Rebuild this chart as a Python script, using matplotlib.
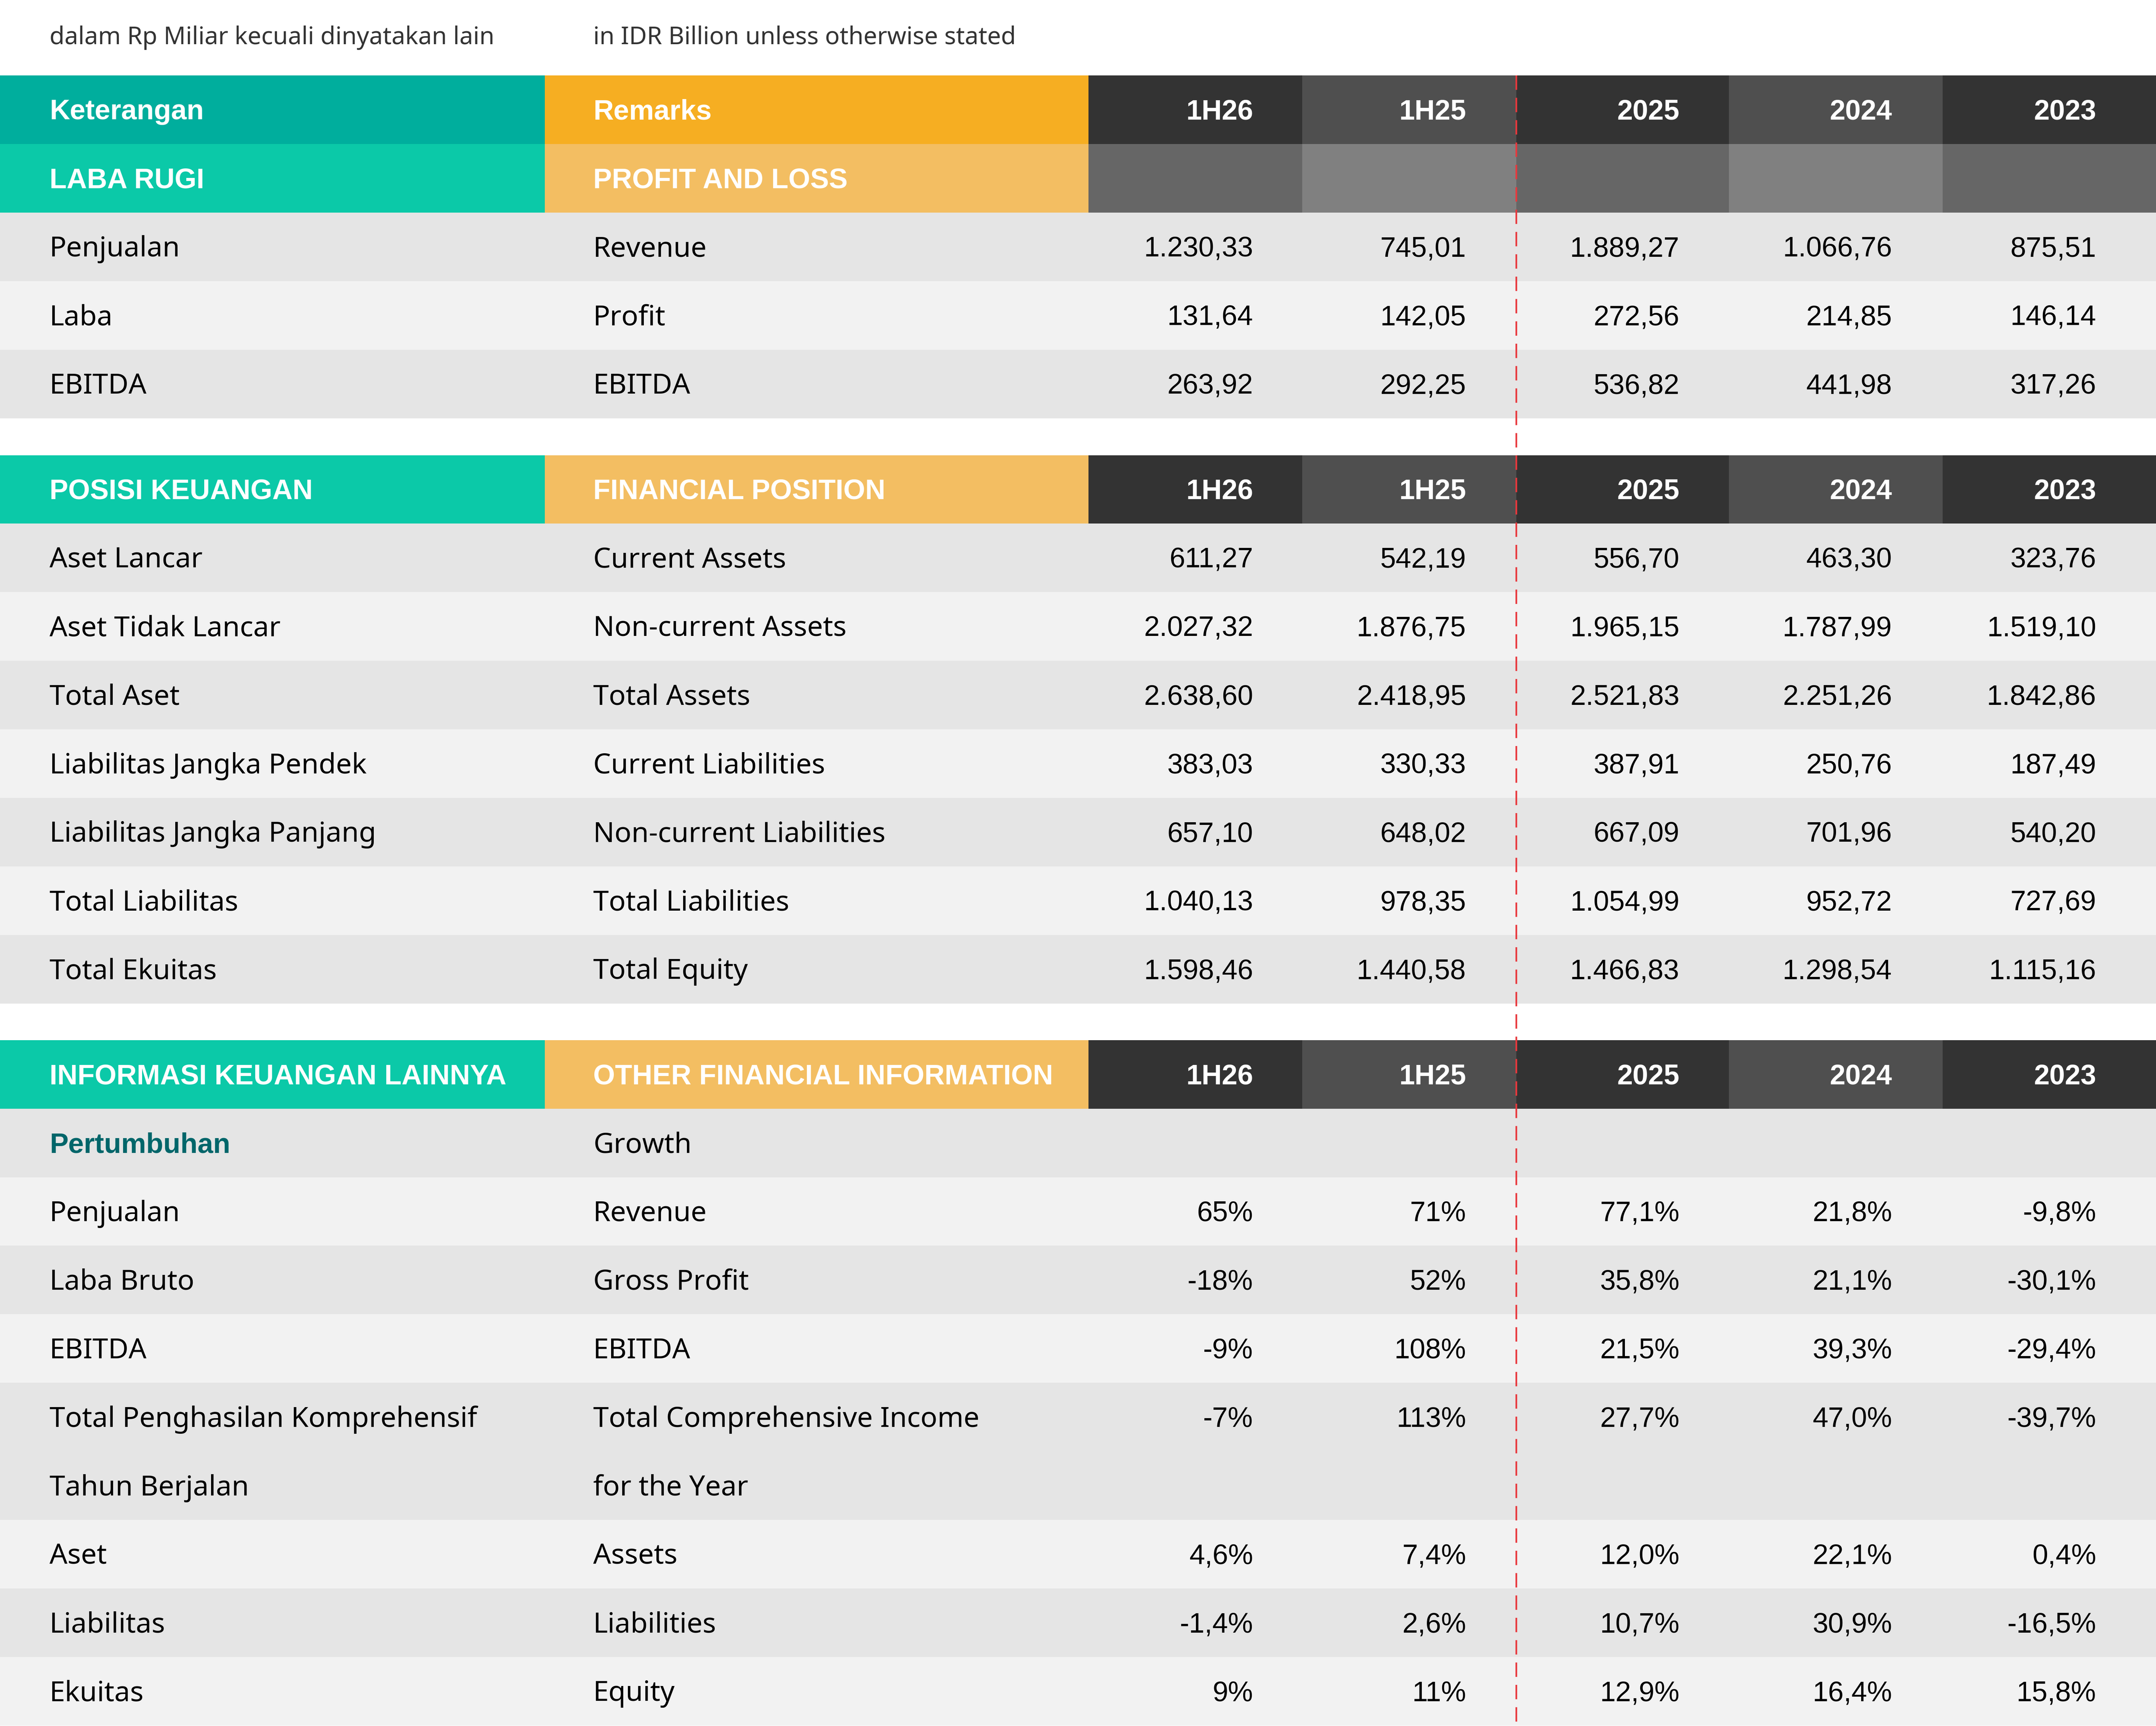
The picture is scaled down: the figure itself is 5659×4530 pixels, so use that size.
import numpy as np
import matplotlib
matplotlib.use("Agg")
import matplotlib.pyplot as plt
from matplotlib.patches import Rectangle

plt.rcParams['font.family'] = ['Liberation Sans', 'DejaVu Sans']
LABEL_FONT = ['Noto Sans', 'Liberation Sans', 'DejaVu Sans']

# ---- data ----
periods = ['1H26', '1H25', '2025', '2024', '2023']

note_id = 'dalam Rp Miliar kecuali dinyatakan lain'
note_en = 'in IDR Billion unless otherwise stated'

head_id = 'Keterangan'
head_en = 'Remarks'

pl_title = ('LABA RUGI', 'PROFIT AND LOSS')
pl_id = ['Penjualan', 'Laba', 'EBITDA']
pl_en = ['Revenue', 'Profit', 'EBITDA']
pl_vals = [
    ['1.230,33', '745,01', '1.889,27', '1.066,76', '875,51'],
    ['131,64', '142,05', '272,56', '214,85', '146,14'],
    ['263,92', '292,25', '536,82', '441,98', '317,26'],
]

fp_title = ('POSISI KEUANGAN', 'FINANCIAL POSITION')
fp_id = ['Aset Lancar', 'Aset Tidak Lancar', 'Total Aset', 'Liabilitas Jangka Pendek',
         'Liabilitas Jangka Panjang', 'Total Liabilitas', 'Total Ekuitas']
fp_en = ['Current Assets', 'Non-current Assets', 'Total Assets', 'Current Liabilities',
         'Non-current Liabilities', 'Total Liabilities', 'Total Equity']
fp_vals = [
    ['611,27', '542,19', '556,70', '463,30', '323,76'],
    ['2.027,32', '1.876,75', '1.965,15', '1.787,99', '1.519,10'],
    ['2.638,60', '2.418,95', '2.521,83', '2.251,26', '1.842,86'],
    ['383,03', '330,33', '387,91', '250,76', '187,49'],
    ['657,10', '648,02', '667,09', '701,96', '540,20'],
    ['1.040,13', '978,35', '1.054,99', '952,72', '727,69'],
    ['1.598,46', '1.440,58', '1.466,83', '1.298,54', '1.115,16'],
]

of_title = ('INFORMASI KEUANGAN LAINNYA', 'OTHER FINANCIAL INFORMATION')
of_sub = ('Pertumbuhan', 'Growth')
of_id = ['Penjualan', 'Laba Bruto', 'EBITDA', 'Total Penghasilan Komprehensif\nTahun Berjalan',
         'Aset', 'Liabilitas', 'Ekuitas']
of_en = ['Revenue', 'Gross Profit', 'EBITDA', 'Total Comprehensive Income\nfor the Year',
         'Assets', 'Liabilities', 'Equity']
of_vals = [
    ['65%', '71%', '77,1%', '21,8%', '-9,8%'],
    ['-18%', '52%', '35,8%', '21,1%', '-30,1%'],
    ['-9%', '108%', '21,5%', '39,3%', '-29,4%'],
    ['-7%', '113%', '27,7%', '47,0%', '-39,7%'],
    ['4,6%', '7,4%', '12,0%', '22,1%', '0,4%'],
    ['-1,4%', '2,6%', '10,7%', '30,9%', '-16,5%'],
    ['9%', '11%', '12,9%', '16,4%', '15,8%'],
]

# ---- layout / style ----
W, H = 5659, 4530
R = 179.9
col_x = [0, 1430, 2857, 3418, 3980, 4538, 5099, W]
txt_l = [130, 1557]
txt_r = [3289, 3848, 4408, 4966, 5502]
FS = 53
base_off = 25.5   # baseline below row centre, px

teal_dark, orange_dark = '#00ae9d', '#f6ae22'
teal, orange = '#0bc9a8', '#f3be62'
dark_cols = ['#333333', '#4f4f4f', '#333333', '#4f4f4f', '#333333']
mid_cols = ['#666666', '#808080', '#666666', '#808080', '#666666']
row_cols = ['#e5e5e5', '#f2f2f2']

fig = plt.figure(figsize=(W / 100, H / 100), dpi=100)
ax = fig.add_axes([0, 0, 1, 1])
ax.set_xlim(0, W)
ax.set_ylim(H, 0)
ax.axis('off')


def cell(x0, x1, y0, h, c):
    ax.add_patch(Rectangle((x0, y0), x1 - x0, h, facecolor=c, edgecolor='none', zorder=1))


def put(x, y0, h, s, ha='left', color='black', bold=False, size=FS, family=None):
    kw = {} if family is None else {'family': family}
    ax.text(x, y0 + h / 2 + base_off, s, ha=ha, va='baseline', color=color,
            fontsize=size, fontweight='bold' if bold else 'normal', zorder=3, **kw)


def header_row(y, left, right, cl, cr):
    cell(col_x[0], col_x[1], y, R, cl)
    cell(col_x[1], col_x[2], y, R, cr)
    put(txt_l[0], y, R, left, color='white', bold=True)
    put(txt_l[1], y, R, right, color='white', bold=True)
    for i, p in enumerate(periods):
        cell(col_x[2 + i], col_x[3 + i], y, R, dark_cols[i])
        put(txt_r[i], y, R, p, ha='right', color='white', bold=True)


def data_row(y, k, lid, len_, vals, lid_color='black', lid_bold=False):
    nl = max(lid.count('\n'), len_.count('\n')) + 1
    h = R * nl
    cell(0, W, y, h, row_cols[k % 2])
    for j, (a, b) in enumerate(zip(lid.split('\n'), len_.split('\n'))):
        put(txt_l[0], y + j * R, R, a, color=lid_color, bold=lid_bold,
            family=None if lid_bold else LABEL_FONT)
        put(txt_l[1], y + j * R, R, b, family=LABEL_FONT)
    for i, v in enumerate(vals):
        put(txt_r[i], y, R, v, ha='right')
    return y + h


# note line
ax.text(txt_l[0], 116, note_id, fontsize=46, color='#333333', va='baseline', family=LABEL_FONT)
ax.text(txt_l[1], 116, note_en, fontsize=46, color='#333333', va='baseline', family=LABEL_FONT)

# section 1
y = 198
header_row(y, head_id, head_en, teal_dark, orange_dark)
y += R
cell(col_x[0], col_x[1], y, R, teal)
cell(col_x[1], col_x[2], y, R, orange)
put(txt_l[0], y, R, pl_title[0], color='white', bold=True)
put(txt_l[1], y, R, pl_title[1], color='white', bold=True)
for i in range(len(periods)):
    cell(col_x[2 + i], col_x[3 + i], y, R, mid_cols[i])
y += R
for k in range(len(pl_id)):
    y = data_row(y, k, pl_id[k], pl_en[k], pl_vals[k])

# section 2
y += 97
header_row(y, fp_title[0], fp_title[1], teal, orange)
y += R
for k in range(len(fp_id)):
    y = data_row(y, k, fp_id[k], fp_en[k], fp_vals[k])

# section 3
y += 96
header_row(y, of_title[0], of_title[1], teal, orange)
y += R
y = data_row(y, 0, of_sub[0], of_sub[1], [''] * 5, lid_color='#00666a', lid_bold=True)
for k in range(len(of_id)):
    y = data_row(y, k + 1, of_id[k], of_en[k], of_vals[k])

# divider between half-year and full-year columns
ax.plot([col_x[4], col_x[4]], [198, H], color='#e8383d', lw=3.2,
        linestyle=(0, (8.5, 4.7)), zorder=4, solid_capstyle='butt')

fig.savefig('out.png', dpi=100)
